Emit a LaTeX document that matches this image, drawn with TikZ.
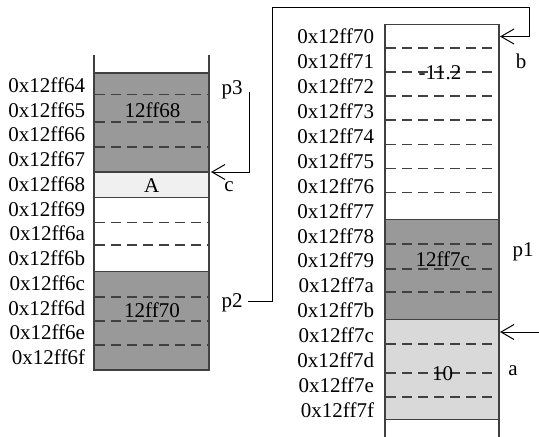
\documentclass[tikz,border=0pt]{standalone}
\usepackage{fontspec}
\setmainfont{Liberation Serif}
\usetikzlibrary{arrows.meta}
\begin{document}
\begin{tikzpicture}[x=0.5pt,y=-0.5pt,
  txt/.style={font=\fontsize{10.5}{12}\selectfont, inner sep=0pt, outer sep=0pt},
  addr/.style={txt, anchor=east},
  block/.style={draw=black!75, line width=0.55pt, inner sep=0pt, outer sep=0pt},
  lblock/.style={block, minimum width=57.5pt},
  rblock/.style={block, minimum width=57pt},
  darkfill/.style={fill=black!40},
  palefill/.style={fill=black!6},
  lightfill/.style={fill=black!15},
  rowline/.style={draw=black!75, line width=0.6pt, dash pattern=on 5pt off 3pt},
  edge/.style={draw=black!75, line width=0.55pt},
  wire/.style={draw=black, line width=0.5pt},
  pointer/.style={wire, -{Straight Barb[length=6.5pt,width=7.5pt]}},
]
\useasboundingbox (0,0) rectangle (539,436);

% ---------- left column ----------
\node[lblock, darkfill, minimum height=49.5pt] (L1) at (151.5,122.5) {};
\node[lblock, palefill, minimum height=12.75pt] (LA) at (151.5,184.75) {};
\node[lblock, fill=white, minimum height=37.1pt] (LW) at (151.5,234.6) {};
\node[lblock, darkfill, minimum height=49.15pt] (L2) at (151.5,320.85) {};
\draw[edge] (L1.north west) -- ++(0,-18);
\draw[edge] (L1.north east) -- ++(0,-18);

\foreach \y in {94.5,122,147} \draw[rowline] (95,\y) -- (208,\y);
\foreach \y in {222.3,245} \draw[rowline] (95,\y) -- (208,\y);
\foreach \y in {297,321,345} \draw[rowline] (95,\y) -- (208,\y);

\node[txt] (v1) at (152.5,110.5) {12ff68};
\node[txt] (v2) at (151.7,186) {A};
\node[txt] (v3) at (152,310) {12ff70};

\foreach \a [count=\i from 0] in {64,65,66,67,68,69,6a,6b,6c,6d,6e,6f}
  \node[addr] (la\i) at (85,{85+24.75*\i}) {0x12ff\a};

% ---------- right column ----------
\node[rblock, fill=white, minimum height=97.5pt] (R1) at (442,122) {};
\node[rblock, darkfill, minimum height=50pt] (R2) at (442,269.5) {};
\node[rblock, lightfill, minimum height=50pt] (R3) at (442,369.5) {};
\draw[edge] (R3.south west) -- ++(0,18);
\draw[edge] (R3.south east) -- ++(0,18);

\foreach \y in {48,72,96,120,144.5,168.5,192.5} \draw[rowline] (386,\y) -- (498,\y);
\foreach \y in {244,269,292} \draw[rowline] (386,\y) -- (498,\y);
\foreach \y in {344,373,397} \draw[rowline] (386,\y) -- (498,\y);

\node[txt] (w1) at (440,72.5) {-11.2};
\node[txt] (w2) at (442.8,259.5) {12ff7c};
\node[txt] (w3) at (442.7,373.5) {10};

\foreach \a [count=\i from 0] in {70,71,72,73,74,75,76,77,78,79,7a,7b,7c,7d,7e,7f}
  \node[addr] (ra\i) at (374,{36.5+24.9*\i}) {0x12ff\a};

% ---------- labels ----------
\node[txt] (p3) at (232,90) {p3};
\node[txt] (c) at (229,187) {c};
\node[txt] (p2) at (232,303) {p2};
\node[txt] (b) at (521,61) {b};
\node[txt] (p1) at (523,252) {p1};
\node[txt] (a) at (513,371) {a};

% ---------- pointers ----------
\coordinate (p3top) at (249,92);
\draw[pointer] (p3top) |- ([xshift=1pt]L1.south east);

\coordinate (p2w) at (248,301);
\coordinate (k1) at (272,7);
\coordinate (k2) at (529,7);
\draw[pointer] (p2w) -| (k1) -- (k2) |- ([xshift=0.5pt]R1.north east |- ra0.center);

\coordinate (p1src) at (539,332);
\draw[pointer] (p1src) -- ([xshift=0.5pt,yshift=-6.25pt]R3.north east);
\end{tikzpicture}
\end{document}
